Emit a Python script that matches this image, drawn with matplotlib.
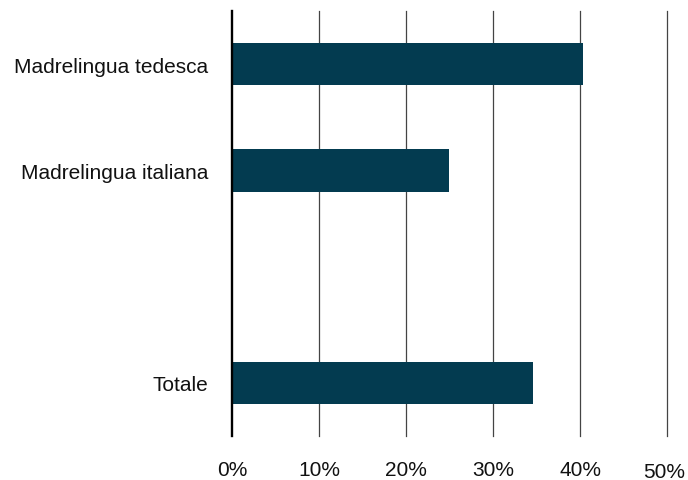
import matplotlib.pyplot as plt
import matplotlib.transforms as mtransforms

categories = ["Madrelingua tedesca", "Madrelingua italiana", "", "Totale"]
values = [40.4, 24.9, None, 34.6]
xticks = [0, 10, 20, 30, 40, 50]

plt.rcParams['font.family'] = ['Liberation Sans', 'DejaVu Sans']

fig = plt.figure(figsize=(6.88, 4.81), dpi=100)
ax = fig.add_axes([232/688, 1-437/481, (667-232)/688, (437-12)/481])

pos = [i for i, v in enumerate(values) if v is not None]
vals = [v for v in values if v is not None]
ax.barh(pos, vals, height=0.4, color='#033b50', zorder=3)

ax.set_xlim(0, 50)
ax.set_ylim(3.5, -0.5)
ax.set_yticks(range(len(categories)))
ax.set_yticklabels(categories, fontsize=15, color='#111111')
ax.set_xticks(xticks)
ax.set_xticklabels([f"{t}%" for t in xticks], fontsize=15, color='#111111')

for t in xticks[1:]:
    ax.axvline(t, color='#444444', lw=0.9, zorder=1, clip_on=False)
ax.axvline(0, color='black', lw=1.7, zorder=4, clip_on=False)

for s in ax.spines.values():
    s.set_visible(False)
ax.tick_params(axis='both', length=0)
ax.tick_params(axis='x', pad=17)
ax.tick_params(axis='y', pad=17)

# last tick label sits a bit lower in the original
lbl = ax.get_xticklabels()[-1]
lbl.set_transform(lbl.get_transform() + mtransforms.ScaledTranslation(-3/100, -2/100, fig.dpi_scale_trans))

fig.savefig("out.png", dpi=100)
